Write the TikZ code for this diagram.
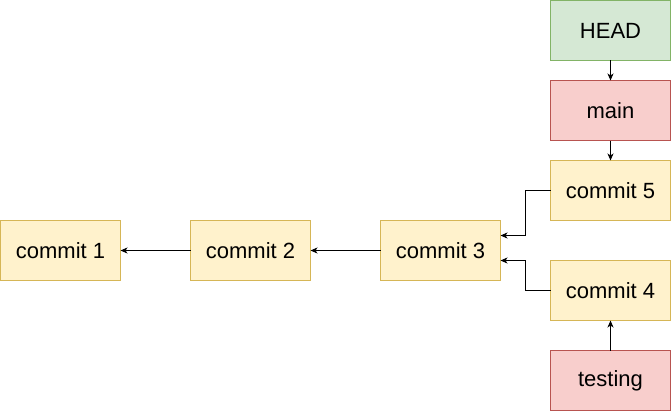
\documentclass[tikz,border=0pt]{standalone}
\usepackage{xcolor}
\usepackage{fontspec}
\setmainfont{Liberation Sans}
\usepackage{tikz}
\usetikzlibrary{arrows.meta,positioning,shapes}

\definecolor{commitfill}{HTML}{FFF2CC}
\definecolor{commitline}{HTML}{D6B656}
\definecolor{headfill}{HTML}{D5E8D4}
\definecolor{headline}{HTML}{82B366}
\definecolor{branchfill}{HTML}{F8CECC}
\definecolor{branchline}{HTML}{B85450}

\begin{document}
\begin{tikzpicture}[
    x=1pt, y=1pt,
    node distance=70pt,
    box/.style={rectangle, draw, line width=1pt, outer sep=0pt, minimum width=120pt, minimum height=60pt, align=center, font=\fontsize{22}{26}\selectfont, text=black},
    commit/.style={box, fill=commitfill, draw=commitline},
    head/.style={box, fill=headfill, draw=headline},
    branch/.style={box, fill=branchfill, draw=branchline},
    arrow/.style={-{Stealth[length=7pt, width=6pt, inset=2pt]}, line width=1pt}
]
    \useasboundingbox (-0.5,0.5) rectangle (670.5,-411.5);
    \node[commit] (commit1) at (60,-250) {commit 1};
    \node[commit, right=of commit1] (commit2) {commit 2};
    \node[commit, right=of commit2] (commit3) {commit 3};
    \node[commit, above right=0pt and 50pt of commit3] (commit5) {commit 5};
    \node[commit, below=40pt of commit5] (commit4) {commit 4};
    \node[branch, above=20pt of commit5] (main) {main};
    \node[head, above=20pt of main] (head) {HEAD};
    \node[branch, below=30pt of commit4] (testing) {testing};
    
    \draw[arrow] (head) -- (main);
    \draw[arrow] (main) -- (commit5);
    \draw[arrow] (testing) -- (commit4);
    \draw[arrow] (commit5.west) -- ++(-25,0) |- ([yshift=15pt]commit3.east);
    \draw[arrow] (commit4.west) -- ++(-25,0) |- ([yshift=-10pt]commit3.east);
    \draw[arrow] (commit3) -- (commit2);
    \draw[arrow] (commit2) -- (commit1);
\end{tikzpicture}
\end{document}
